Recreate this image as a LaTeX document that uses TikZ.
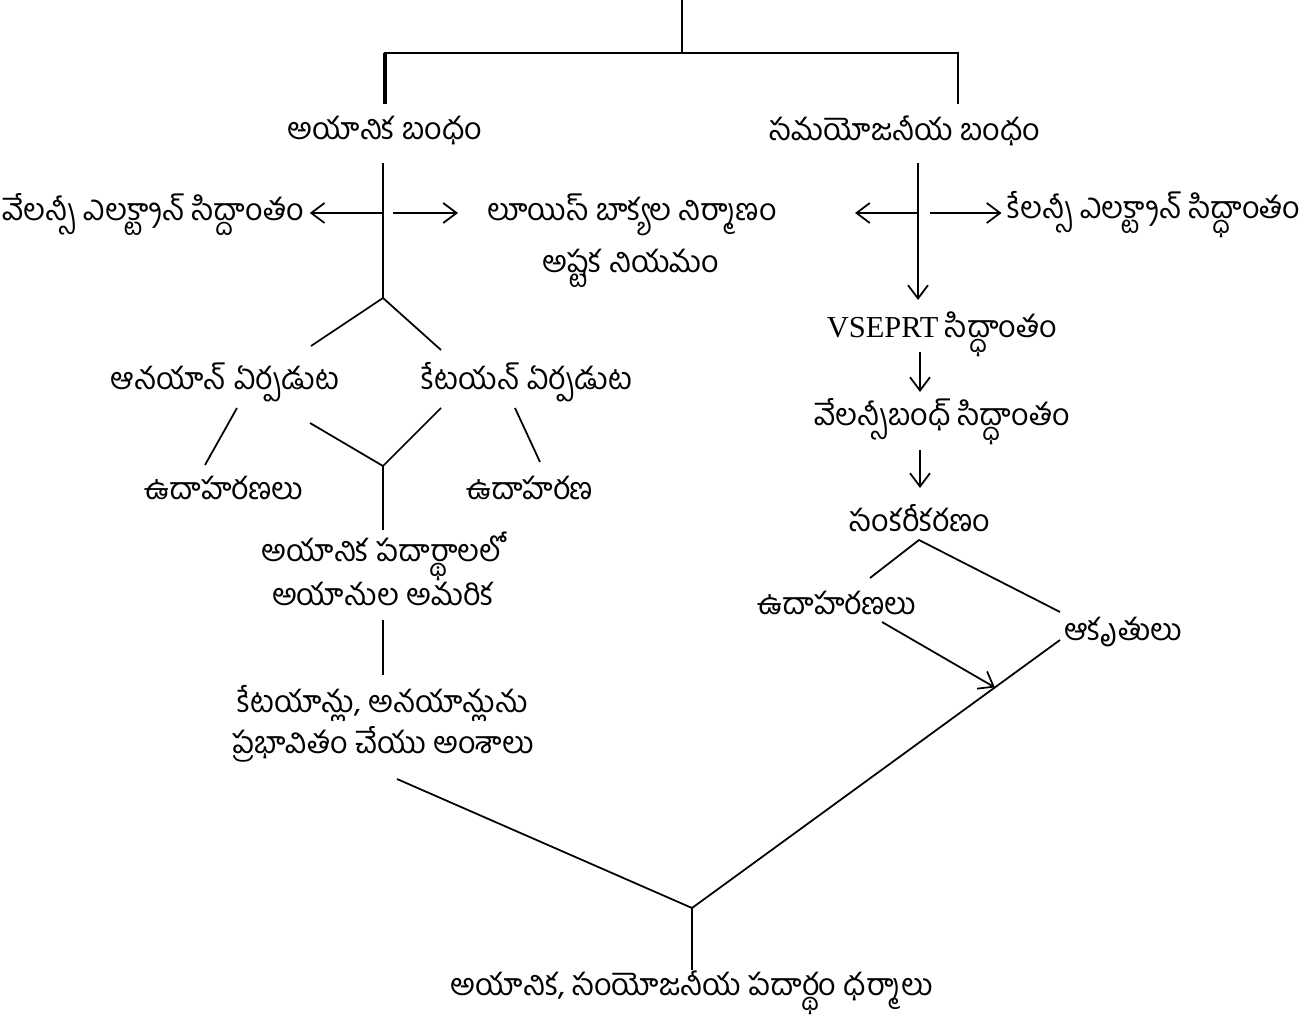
\documentclass[tikz,border=0pt]{standalone}
\usepackage{fontspec}
\setmainfont{Liberation Serif}
\newfontfamily\tel[Script=Telugu]{Hind Guntur}
\usepackage{tikz}
\usetikzlibrary{arrows.meta,calc,positioning}
\tikzset{
  lbl/.style  = {font=\tel\fontsize{26}{35}\selectfont, inner sep=2pt, align=center},
  wire/.style = {line width=1.5pt},
  arr/.style  = {line width=1.5pt, -{Straight Barb[length=4mm,width=6mm,line width=1.5pt]}},
}

\begin{document}
\begin{tikzpicture}[x=0.03cm,y=-0.03cm]
  \useasboundingbox (0,0) rectangle (1305,1018);
  % top split
  \coordinate (root) at (682,0);
  \coordinate (hub) at (682,53);
  \coordinate (ionicIn) at (385,104);
  \coordinate (covIn) at (958,104);
  \draw[wire] (root) -- (hub);
  \draw[wire] (ionicIn) |- (hub) -| (covIn);
  \draw[line width=2.8pt] (ionicIn) -- (385,53);

  \node[lbl] (ionic) at (385,131) {అయానిక బంధం};
  \node[lbl] (covalent) at (905,131) {సమయోజనీయ బంధం};

  % ionic side
  \node[lbl] (valL) at (153,215) {వేలన్సీ ఎలక్ట్రాన్ సిద్దాంతం};
  \node[lbl] (lewis) at (632,215) {లూయిస్ బాక్యల నిర్మాణం};
  \node[lbl] (octet) at (631,268) {అష్టక నియమం};
  \coordinate (ionicOut) at (383,163);
  \coordinate (ionicFork) at (383,298);
  \coordinate (ionicMid) at (383,213);
  \coordinate (lewisTip) at (458,213);
  \draw[wire] (ionicOut) -- (ionicFork);
  \draw[arr,shorten >=3pt] (ionicMid) -- (valL.east |- ionicMid);
  \draw[arr] ($(ionicMid)+(10,0)$) -- (lewisTip);

  \node[lbl] (anion) at (225,382) {ఆనయాన్ ఏర్పడుట};
  \node[lbl] (cation) at (527,382) {కేటయన్ ఏర్పడుట};
  \coordinate (anionIn) at (311,346);
  \coordinate (cationIn) at (441,350);
  \draw[wire] (anionIn) -- (ionicFork) -- (cationIn);

  \node[lbl] (exA) at (224,488) {ఉదాహరణలు};
  \node[lbl] (exC) at (530,488) {ఉదాహరణ};
  \draw[wire] (237,408) -- (205,465);
  \draw[wire] (515,408) -- (540,462);
  \coordinate (latFork) at (383,466);
  \draw[wire] (310,423) -- (latFork) -- (441,408);

  \node[lbl] (arrange) at (383,569) {అయానిక పదార్థాలలో\\అయానుల అమరిక};
  \draw[wire] (latFork) -- (arrange.north);
  \node[lbl] (factors) at (383,724) {కేటయాన్లు, అనయాన్లును\\ప్రభావితం చేయు అంశాలు};
  \draw[wire] (383,620) -- (383,675);

  % covalent side
  \node[lbl] (valR) at (1154,215) {కేలన్సీ ఎలక్ట్రాన్ సిద్ధాంతం};
  \node[lbl] (vsepr) at (942,334) {{\rmfamily VSEPRT} సిద్ధాంతం};
  \node[lbl] (vbt) at (942,422) {వేలన్సీబంధ్ సిద్ధాంతం};
  \node[lbl] (hybrid) at (920,518) {సంకరీకరణం};
  \coordinate (covOut) at (918,163);
  \coordinate (covMid) at (918,213);
  \draw[arr] (covOut) -- (918,300);
  \draw[arr] (covMid) -- (855,213);
  \draw[arr,shorten >=3pt] ($(covMid)+(12,0)$) -- (valR.west |- covMid);
  \draw[arr] (920,352) -- (920,392);
  \draw[arr] (920,450) -- (920,488);

  \node[lbl] (exH) at (837,603) {ఉదాహరణలు};
  \node[lbl] (shapes) at (1123,632) {ఆకృతులు};
  \coordinate (hybFork) at (919,540);
  \draw[wire] (870,578) -- (hybFork) -- (1060,612);

  % bottom join
  \node[lbl] (props) at (692,993) {అయానిక, సంయోజనీయ పదార్థం ధర్మాలు};
  \coordinate (baseFork) at (692,908);
  \coordinate (shapesOut) at (1060,640);
  \coordinate (meet) at ($(shapesOut)!0.177!(baseFork)$);
  \draw[wire] (397,779) -- (baseFork) -- (shapesOut);
  \draw[wire] (baseFork) -- (692,970);
  \draw[arr] (882,622) -- (meet);
\end{tikzpicture}
\end{document}
